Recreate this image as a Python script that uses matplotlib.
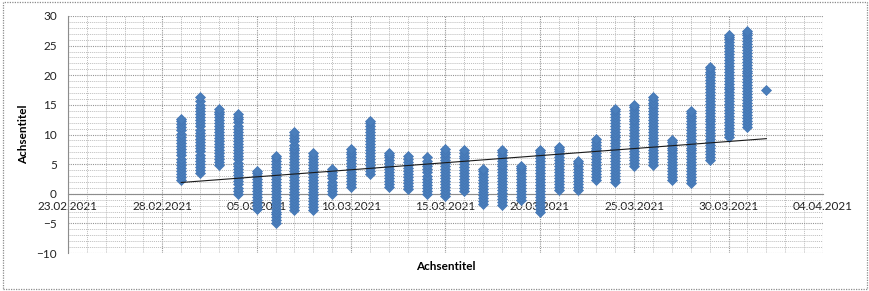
import matplotlib
matplotlib.use('Agg')
import matplotlib.pyplot as plt
import matplotlib.dates as mdates
from matplotlib.patches import Rectangle
import numpy as np
from datetime import datetime, timedelta

plt.rcParams['font.family'] = ['Lato', 'DejaVu Sans']

# Tageswerte (Temperatur), je Tag eine Spalte
t_0103 = [2.3, 2.8, 3.3, 3.9, 4.4, 4.9, 5.4, 5.9, 6.5, 7.0, 7.5, 8.0, 8.6, 9.1, 9.6, 10.1, 10.7,
          11.2, 11.7, 12.2, 12.7]
t_0203 = [3.5, 4.0, 4.5, 5.1, 5.6, 6.1, 6.6, 7.2, 7.7, 8.2, 8.7, 9.3, 9.8, 10.3, 10.8, 11.4, 11.9,
          12.4, 12.9, 13.5, 14.0, 14.5, 15.0, 15.6, 16.3]
t_0303 = [4.9, 5.4, 5.9, 6.4, 6.9, 7.4, 7.9, 8.4, 8.9, 9.4, 9.9, 10.4, 10.9, 11.4, 11.9, 12.4,
          12.9, 13.4, 13.8, 14.3]
t_0403 = [0.0, 0.5, 1.0, 1.6, 2.1, 2.6, 3.1, 3.7, 4.2, 4.7, 5.2, 5.8, 6.3, 6.8, 7.3, 7.9, 8.4,
          8.9, 9.4, 10.0, 10.5, 11.0, 11.5, 12.1, 12.6, 13.0, 13.5]
t_0503 = [-2.5, -2.0, -1.5, -1.0, -0.5, 0.0, 0.5, 1.0, 1.5, 2.0, 2.5, 3.0, 3.5, 3.9]
t_0603 = [-5.0, -4.5, -4.0, -3.5, -3.0, -2.5, -2.0, -1.5, -1.0, -0.5, 0.0, 0.5, 1.0, 1.5, 2.0,
          2.5, 3.0, 3.5, 4.0, 4.5, 5.0, 5.5, 6.0, 6.4]
t_0703 = [-2.7, -2.2, -1.7, -1.2, -0.7, -0.2, 0.3, 0.8, 1.3, 1.8, 2.3, 2.8, 3.3, 3.8, 4.3, 4.8,
          5.3, 5.8, 6.3, 6.8, 7.3, 7.8, 8.3, 8.9, 9.4, 9.9, 10.4]
t_0803 = [-2.7, -2.2, -1.7, -1.2, -0.7, -0.2, 0.3, 0.8, 1.3, 1.8, 2.3, 2.8, 3.3, 3.8, 4.3, 4.9,
          5.4, 5.9, 6.4, 6.9]
t_0903 = [0.0, 0.5, 1.0, 1.5, 2.0, 2.6, 3.1, 3.6, 4.1]
t_1003 = [1.2, 1.7, 2.2, 2.7, 3.2, 3.7, 4.2, 4.7, 5.2, 5.7, 6.2, 6.7, 7.1, 7.6]
t_1103 = [3.4, 3.9, 4.4, 4.9, 5.4, 5.9, 6.4, 6.9, 7.4, 7.9, 8.4, 8.9, 9.4, 9.9, 10.4, 10.9, 11.4,
          11.9, 12.3]
t_1203 = [1.2, 1.7, 2.2, 2.7, 3.2, 3.7, 4.2, 4.7, 5.2, 5.7, 6.2, 6.6, 6.9]
t_1303 = [0.8, 1.3, 1.8, 2.3, 2.8, 3.3, 3.8, 4.3, 4.8, 5.3, 5.8, 6.4]
t_1403 = [0.0, 0.5, 1.0, 1.5, 2.0, 2.5, 3.0, 3.6, 4.1, 4.6, 5.1, 5.6, 6.2]
t_1503 = [-0.3, 0.2, 0.7, 1.2, 1.7, 2.2, 2.7, 3.2, 3.7, 4.2, 4.7, 5.2, 5.7, 6.2, 6.7, 7.1, 7.6]
t_1603 = [0.5, 1.0, 1.5, 2.0, 2.5, 3.0, 3.5, 4.0, 4.5, 5.0, 5.5, 6.0, 6.4, 6.9, 7.3]
t_1703 = [-1.7, -1.2, -0.7, -0.2, 0.3, 0.8, 1.3, 1.8, 2.3, 2.8, 3.3, 3.8, 4.2]
t_1803 = [-1.9, -1.4, -0.9, -0.4, 0.1, 0.6, 1.1, 1.6, 2.1, 2.6, 3.1, 3.6, 4.1, 4.6, 5.1, 5.6,
          6.1, 6.6, 7.0, 7.3]
t_1903 = [-1.0, -0.5, 0.0, 0.5, 1.0, 1.5, 2.0, 2.5, 3.0, 3.5, 4.0, 4.4, 4.7]
t_2003 = [-3.0, -2.5, -2.0, -1.5, -1.0, -0.5, 0.0, 0.5, 1.0, 1.5, 2.0, 2.5, 3.0, 3.5, 4.0, 4.5,
          5.0, 5.5, 6.0, 6.5, 7.0, 7.4]
t_2103 = [0.7, 1.2, 1.7, 2.2, 2.7, 3.2, 3.7, 4.2, 4.7, 5.2, 5.7, 6.2, 6.7, 7.2, 7.6, 7.9]
t_2203 = [0.7, 1.2, 1.7, 2.2, 2.7, 3.2, 3.7, 4.2, 4.7, 5.2, 5.6]
t_2303 = [2.3, 2.8, 3.3, 3.8, 4.3, 4.8, 5.3, 5.8, 6.3, 6.8, 7.3, 7.8, 8.3, 8.8, 9.3]
t_2403 = [2.0, 2.5, 3.0, 3.5, 4.0, 4.5, 5.0, 5.5, 6.0, 6.5, 7.0, 7.5, 8.0, 8.5, 9.0, 9.5, 10.0,
          10.5, 11.0, 11.5, 12.0, 12.5, 13.0, 13.4, 13.9, 14.3]
t_2503 = [4.7, 5.2, 5.7, 6.2, 6.7, 7.2, 7.7, 8.2, 8.7, 9.2, 9.7, 10.2, 10.7, 11.2, 11.7, 12.2,
          12.7, 13.2, 13.7, 14.1, 14.6, 15.0]
t_2603 = [4.9, 5.4, 5.9, 6.4, 6.9, 7.4, 7.9, 8.4, 8.9, 9.4, 9.9, 10.4, 10.9, 11.4, 11.9, 12.4,
          12.9, 13.4, 13.9, 14.4, 14.9, 15.4, 15.9, 16.4]
t_2703 = [2.3, 2.8, 3.3, 3.8, 4.3, 4.8, 5.3, 5.8, 6.3, 6.8, 7.3, 7.8, 8.3, 8.7, 9.1]
t_2803 = [1.8, 2.3, 2.8, 3.3, 3.8, 4.3, 4.8, 5.3, 5.8, 6.3, 6.8, 7.3, 7.8, 8.3, 8.8, 9.3, 9.8,
          10.3, 10.8, 11.3, 11.8, 12.3, 12.8, 13.2, 13.6, 14.0]
t_2903 = [5.7, 6.2, 6.7, 7.2, 7.7, 8.2, 8.7, 9.2, 9.7, 10.2, 10.7, 11.2, 11.7, 12.2, 12.7, 13.2,
          13.7, 14.2, 14.7, 15.2, 15.7, 16.2, 16.7, 17.2, 17.7, 18.2, 18.7, 19.2, 19.7, 20.2,
          20.6, 21.0, 21.4]
t_3003 = [9.6, 10.1, 10.6, 11.1, 11.6, 12.1, 12.6, 13.1, 13.6, 14.1, 14.6, 15.1, 15.6, 16.1,
          16.6, 17.1, 17.6, 18.1, 18.6, 19.1, 19.6, 20.1, 20.6, 21.1, 21.6, 22.1, 22.6, 23.1,
          23.6, 24.1, 24.6, 25.1, 25.6, 26.1, 26.5, 26.8]
t_3103 = [11.3, 11.8, 12.3, 12.8, 13.3, 13.8, 14.3, 14.8, 15.3, 15.8, 16.3, 16.8, 17.3, 17.8,
          18.3, 18.8, 19.3, 19.8, 20.3, 20.8, 21.3, 21.8, 22.3, 22.8, 23.3, 23.8, 24.3, 24.8,
          25.3, 25.8, 26.3, 26.8, 27.2, 27.5]
t_0104 = [17.5]

day_values = [t_0103, t_0203, t_0303, t_0403, t_0503, t_0603, t_0703, t_0803, t_0903, t_1003,
              t_1103, t_1203, t_1303, t_1403, t_1503, t_1603, t_1703, t_1803, t_1903, t_2003,
              t_2103, t_2203, t_2303, t_2403, t_2503, t_2603, t_2703, t_2803, t_2903, t_3003,
              t_3103, t_0104]
first_day = datetime(2021, 3, 1)

# Trendlinie
trend_dates = [datetime(2021, 3, 1), datetime(2021, 4, 1)]
trend_values = [1.9, 9.3]

fig = plt.figure(figsize=(8.7, 2.91), dpi=100)
ax = fig.add_axes([68 / 870, 38 / 291, 755 / 870, 237 / 291])

# Rahmen um das Diagramm
fig.patches.append(Rectangle((0.003, 0.006), 0.994, 0.986, transform=fig.transFigure,
                             fill=False, edgecolor='#8c8c8c', linestyle=(0, (1, 1)), lw=0.9))

xs, ys = [], []
for i, vals in enumerate(day_values):
    d = first_day + timedelta(days=i)
    xs += [d] * len(vals)
    ys += vals

ax.plot(xs, ys, linestyle='none', marker='D', markersize=5.0,
        markerfacecolor='#4a7ebb', markeredgecolor='#4274b3', markeredgewidth=0.5, zorder=3)
ax.plot(trend_dates, trend_values, color='#1a1a1a', lw=0.8, zorder=4)

x0 = mdates.date2num(datetime(2021, 2, 23))
x1 = mdates.date2num(datetime(2021, 4, 4))
ax.set_xlim(x0, x1)
ax.set_ylim(-10, 30)
ax.set_xticks(np.arange(x0, x1 + 0.5, 5))
ax.set_xticks(np.arange(x0, x1 + 0.5, 1), minor=True)
ax.set_yticks(np.arange(-10, 31, 5))
ax.set_yticks(np.arange(-10, 31, 1), minor=True)
ax.xaxis.set_major_formatter(mdates.DateFormatter('%d.%m.%Y'))

ax.grid(True, which='major', color='#959595', linestyle=(0, (1, 1)), lw=0.8)
ax.grid(True, which='minor', color='#bdbdbd', linestyle=(0, (1, 1)), lw=0.7)
ax.set_axisbelow(True)

ax.spines['bottom'].set_position(('data', 0))
for s in ['top', 'right']:
    ax.spines[s].set_visible(False)
ax.spines['bottom'].set_color('#8c8c8c')
ax.spines['left'].set_color('#8c8c8c')
ax.spines['bottom'].set_linewidth(0.8)
ax.spines['left'].set_linewidth(0.8)

ax.tick_params(axis='both', which='both', length=0, labelsize=8.5, labelcolor='#222222')
ax.tick_params(axis='y', pad=8)
ax.tick_params(axis='x', pad=5)

ax.set_xlabel('Achsentitel', fontsize=8.5, fontweight='bold')
ax.xaxis.set_label_coords(0.5, -0.035)
ax.set_ylabel('Achsentitel', fontsize=8.5, fontweight='bold')
ax.yaxis.set_label_coords(-0.052, 0.5)

fig.savefig('out.png', dpi=100)
